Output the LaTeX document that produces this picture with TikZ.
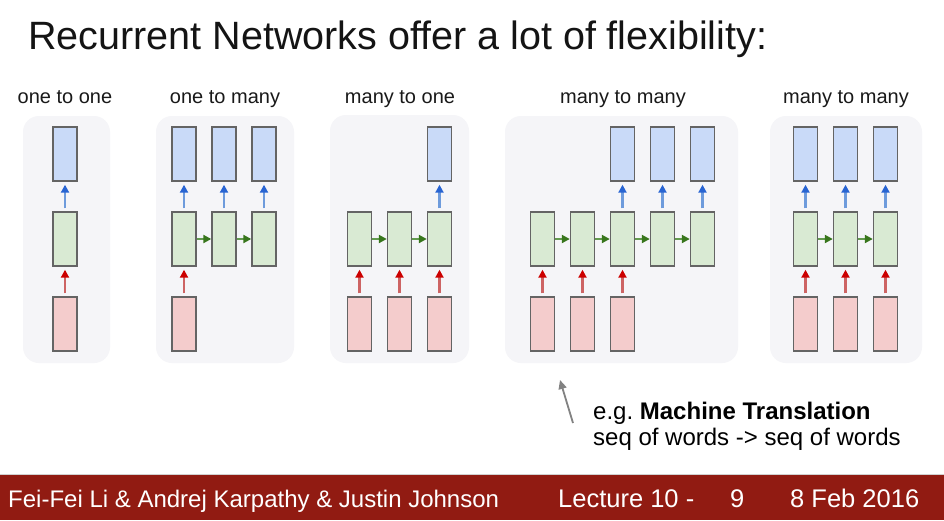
\documentclass[tikz,border=0pt]{standalone}
\usepackage{fontspec}
\setmainfont{Liberation Sans}
\usetikzlibrary{arrows.meta}
\frenchspacing
\definecolor{panelbg}{RGB}{245,245,248}
\definecolor{bluefill}{RGB}{201,218,248}
\definecolor{greenfill}{RGB}{217,234,211}
\definecolor{redfill}{RGB}{244,204,204}
\definecolor{boxborder}{RGB}{100,100,100}
\definecolor{bluetip}{RGB}{40,100,210}
\definecolor{blueline}{RGB}{110,155,220}
\definecolor{redtip}{RGB}{204,0,0}
\definecolor{redline}{RGB}{205,100,100}
\definecolor{greentip}{RGB}{56,118,29}
\definecolor{greenline}{RGB}{100,155,80}
\definecolor{footred}{RGB}{145,27,18}
\definecolor{annogray}{RGB}{130,130,130}
\tikzset{
  panel/.style={fill=panelbg, draw=none, rounded corners=16pt},
  cell/.style={draw=boxborder, line width=1.4pt, minimum width=24pt, minimum height=54pt, inner sep=0pt},
  outcell/.style={cell, fill=bluefill},
  hidcell/.style={cell, fill=greenfill},
  incell/.style={cell, fill=redfill},
  outarr/.style={draw=blueline, line width=2.1pt, -{Triangle[length=8pt,width=8pt,color=bluetip]}, shorten <=3pt, shorten >=3pt},
  inarr/.style={draw=redline, line width=2.1pt, -{Triangle[length=8pt,width=8pt,color=redtip]}, shorten <=3pt, shorten >=3pt},
  recarr/.style={draw=greenline, line width=2.1pt, -{Triangle[length=8pt,width=8pt,color=greentip]}},
  ptitle/.style={font=\fontsize{20}{24}\selectfont, anchor=base, text=black!90, inner sep=0pt},
  foot/.style={text=white, anchor=base west, inner sep=0pt},
}
\begin{document}
\begin{tikzpicture}[x=1pt,y=-1pt]
\useasboundingbox (0,0) rectangle (944,520);
\fill[white] (0,0) rectangle (944,520);
% title
\node[anchor=base west, inner sep=0pt, font=\fontsize{39.5}{46}\selectfont, text=black!92] (title) at (28,49) {Recurrent Networks offer a lot of flexibility:};
% panels
\fill[panel] (23,116) rectangle (110,363);
\fill[panel] (156,116) rectangle (294,363);
\fill[panel] (330,115) rectangle (469,363);
\fill[panel] (505,116) rectangle (738,363);
\fill[panel] (770,116) rectangle (922,363);
% panel titles
\node[ptitle] (t1) at (65,103) {one to one};
\node[ptitle] (t2) at (225,103) {one to many};
\node[ptitle] (t3) at (400,103) {many to one};
\node[ptitle] (t4) at (623,103) {many to many};
\node[ptitle] (t5) at (846,103) {many to many};
% panel 1
\node[outcell] (ab1) at (65,154) {};
\node[hidcell] (ag1) at (65,239) {};
\node[incell]  (ar1) at (65,324) {};
\draw[outarr] (ag1.north) -- (ab1.south);
\draw[inarr] (ar1.north) -- (ag1.south);
% panel 2
\foreach \i/\x in {1/184,2/224,3/264}{
  \node[outcell] (bb\i) at (\x,154) {};
  \node[hidcell] (bg\i) at (\x,239) {};
  \draw[outarr] (bg\i.north) -- (bb\i.south);
}
\node[incell] (br1) at (184,324) {};
\draw[inarr] (br1.north) -- (bg1.south);
\draw[recarr] (bg1.east) -- (bg2.west);
\draw[recarr] (bg2.east) -- (bg3.west);
% panel 3
\foreach \i/\x in {1/359.5,2/399.5,3/439.5}{
  \node[hidcell] (cg\i) at (\x,239) {};
  \node[incell] (cr\i) at (\x,324) {};
  \draw[inarr] (cr\i.north) -- (cg\i.south);
}
\node[outcell] (cb3) at (439.5,154) {};
\draw[outarr] (cg3.north) -- (cb3.south);
\draw[recarr] (cg1.east) -- (cg2.west);
\draw[recarr] (cg2.east) -- (cg3.west);
% panel 4
\foreach \i/\x in {1/542.5,2/582.5,3/622.5,4/662.5,5/702.5}{
  \node[hidcell] (dg\i) at (\x,239) {};
}
\foreach \i/\x in {1/542.5,2/582.5,3/622.5}{
  \node[incell] (dr\i) at (\x,324) {};
  \draw[inarr] (dr\i.north) -- (dg\i.south);
}
\foreach \i/\x in {3/622.5,4/662.5,5/702.5}{
  \node[outcell] (db\i) at (\x,154) {};
  \draw[outarr] (dg\i.north) -- (db\i.south);
}
\draw[recarr] (dg1.east) -- (dg2.west);
\draw[recarr] (dg2.east) -- (dg3.west);
\draw[recarr] (dg3.east) -- (dg4.west);
\draw[recarr] (dg4.east) -- (dg5.west);
% panel 5
\foreach \i/\x in {1/805.5,2/845.5,3/885.5}{
  \node[outcell] (eb\i) at (\x,154) {};
  \node[hidcell] (eg\i) at (\x,239) {};
  \node[incell] (er\i) at (\x,324) {};
  \draw[outarr] (eg\i.north) -- (eb\i.south);
  \draw[inarr] (er\i.north) -- (eg\i.south);
}
\draw[recarr] (eg1.east) -- (eg2.west);
\draw[recarr] (eg2.east) -- (eg3.west);
% annotation
\coordinate (annoS) at (573,423);
\coordinate (annoE) at (560,380);
\draw[draw=annogray, line width=1.8pt, -{Triangle[length=9pt,width=8pt]}] (annoS) -- (annoE);
\node[anchor=base west, inner sep=0pt, font=\fontsize{24}{28}\selectfont] (anno1) at (593,419) {e.g. \textbf{Machine Translation}};
\node[anchor=base west, inner sep=0pt, font=\fontsize{24}{28}\selectfont] (anno2) at (593,445) {seq of words -> seq of words};
% footer
\fill[black!18] (0,473.5) rectangle (944,475);
\fill[footred] (0,475) rectangle (944,520);
\node[foot, font=\fontsize{24}{28}\selectfont] (f1) at (8,507) {Fei-Fei Li \& Andrej Karpathy \& Justin Johnson};
\node[foot, font=\fontsize{25.5}{30}\selectfont] (f2) at (558,507) {Lecture 10 -};
\node[foot, font=\fontsize{25.5}{30}\selectfont] (f3) at (730,507) {9};
\node[foot, font=\fontsize{25.5}{30}\selectfont] (f4) at (790,507) {8 Feb 2016};
\end{tikzpicture}
\end{document}
